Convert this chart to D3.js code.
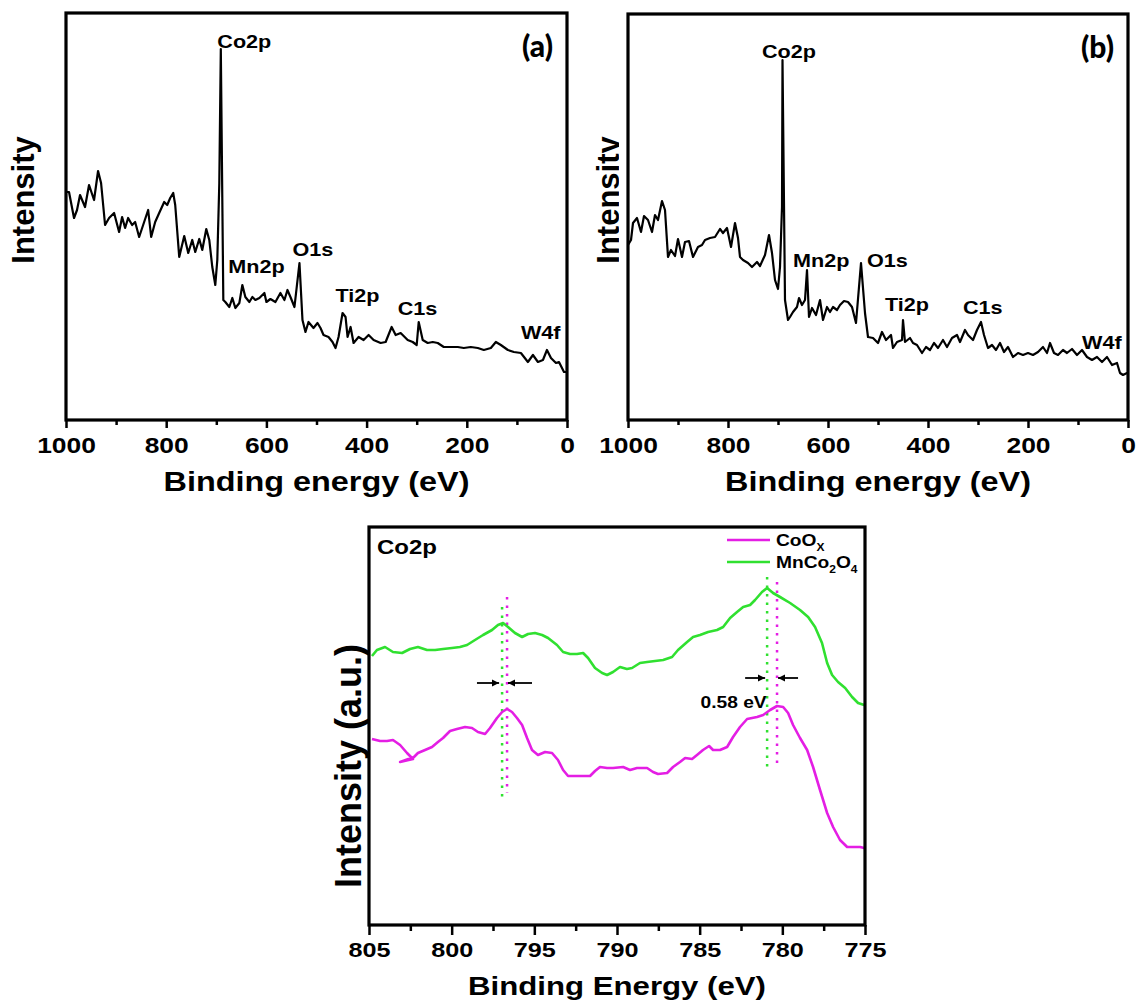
<!DOCTYPE html>
<html>
<head>
<meta charset="utf-8">
<title>XPS spectra</title>
<script src="https://d3js.org/d3.v7.min.js"></script>
<style>
  body { margin: 0; background: #fff; }
  svg text { font-family: Arial, "Liberation Sans", sans-serif; font-weight: bold; fill: #000; }
  .frame { fill: none; stroke: #000; stroke-width: 3.2; }
  .axis path { display: none; }
  .axis line { stroke: #000; stroke-width: 2.5; }
  .spectrum { fill: none; stroke: #000; stroke-width: 2.2; stroke-linejoin: round; }
  .tag { font-family: Lato, "Open Sans", sans-serif !important; font-weight: 900 !important; }
</style>
</head>
<body>
<script>
// ---- survey (a) ----
var energyA = [1000,994,984,978,972,962,954,944,936,930,922,914,904,894,888,882,876,868,862,854,844,836,830,822,814,804,798,792,786,782,774,764,756,748,742,734,728,720,714,708,702,698,694,691,686,682,674,668,662,654,648,642,634,628,622,614,604,600,592,582,572,564,558,552,544,534,528,522,516,506,498,492,486,476,468,462,456,448,442,438,432,426,416,406,396,386,372,362,350,342,332,318,308,300,296,288,278,268,258,246,232,218,206,192,178,166,152,142,132,118,106,92,78,68,58,48,40,32,22,16,6,0];
var countsA = [228,228,202,210,225,213,235,220,249,237,195,202,207,188,203,192,202,195,198,183,198,210,183,198,207,218,215,222,227,215,163,184,167,180,168,181,170,191,180,153,135,160,237,371,120,118,113,122,112,117,135,123,118,123,120,122,127,118,121,118,127,120,130,123,113,157,100,88,98,92,97,92,85,83,78,72,83,107,103,83,93,77,83,80,85,80,77,78,93,85,87,80,78,75,98,80,77,78,77,73,73,73,72,73,72,70,72,78,75,70,68,67,58,65,58,60,70,62,57,58,48,48];

// ---- survey (b) ----
var energyB = [1000,994,990,982,974,968,960,952,946,940,932,926,920,914,906,900,892,886,878,870,860,852,846,836,826,816,810,802,794,786,780,776,770,760,752,742,736,726,718,712,706,700,696,692,691,686,680,676,670,662,658,652,646,642,638,632,624,616,610,602,596,590,582,576,568,560,552,544,534,526,520,510,500,492,484,474,470,462,452,450,446,436,430,422,412,404,396,388,380,370,362,352,342,336,326,320,310,302,294,288,280,272,264,256,248,240,230,220,210,200,190,180,170,162,156,148,140,130,122,112,102,92,82,72,62,52,42,32,22,16,10,2,0];
var countsB = [175,180,197,202,188,204,200,188,205,200,219,210,163,170,164,181,163,178,179,163,173,175,180,182,183,191,187,192,173,197,182,163,160,157,153,158,154,165,185,167,140,131,153,213,360,120,100,103,108,113,122,115,120,150,103,112,105,120,100,113,108,113,110,115,119,118,113,97,157,107,83,82,77,88,80,85,72,78,80,100,78,82,77,75,67,73,70,77,72,80,73,82,85,78,90,85,80,90,98,85,72,75,70,77,68,73,63,67,65,67,65,68,73,67,77,67,65,70,67,71,65,70,63,60,63,58,63,55,57,47,45,47,47];

var surveyTicks = [1000, 800, 600, 400, 200, 0];
var surveyMinor = [900, 700, 500, 300, 100];
var peaksA = [
  {name: "Co2p", e: 698, i: 372},
  {name: "Mn2p", e: 676, i: 147},
  {name: "O1s",  e: 548, i: 164},
  {name: "Ti2p", e: 462, i: 118},
  {name: "C1s",  e: 338, i: 105},
  {name: "W4f",  e: 92,  i: 81}
];
var peaksB = [
  {name: "Co2p", e: 732, i: 362},
  {name: "Mn2p", e: 670, i: 153},
  {name: "O1s",  e: 522, i: 153},
  {name: "Ti2p", e: 486, i: 109},
  {name: "C1s",  e: 330, i: 106},
  {name: "W4f",  e: 92,  i: 71}
];

// ---- Co2p high resolution (c) ----
var energyMn = [804.82,804.52,804.03,803.55,803.0,802.52,802.04,801.49,801.0,800.52,799.98,799.5,799.07,798.59,798.1,797.56,797.2,796.89,796.59,796.17,795.74,795.38,794.96,794.53,794.17,793.63,793.26,792.84,792.42,792.05,791.75,791.33,790.9,790.6,790.24,789.82,789.4,789.09,788.61,788.18,787.7,787.21,786.67,786.31,785.76,785.4,784.98,784.49,783.95,783.58,783.16,782.74,782.37,781.95,781.65,781.23,780.92,780.56,780.14,779.53,778.93,778.44,778.02,777.6,777.29,776.99,776.63,776.2,775.78,775.42,775.05];
var countsMn = [269,275,278,273,272,276,278,275,275,276,277,278,280,285,290,295,300,302,298,292,288,291,292,290,287,280,273,271,271,272,267,257,252,250,253,258,256,257,262,263,264,265,268,275,283,288,290,293,295,298,307,313,318,320,325,333,337,332,328,322,315,308,298,282,262,250,243,237,228,222,220];
var energyCo = [804.82,804.33,803.91,803.55,803.12,802.7,802.34,803.12,802.28,802.04,801.61,801.19,800.83,800.52,800.1,799.68,799.19,798.77,798.41,797.98,797.68,797.26,796.95,796.65,796.35,796.05,795.74,795.44,795.14,794.78,794.35,793.93,793.57,793.26,792.96,792.42,792.05,791.63,791.33,791.03,790.6,790.24,789.63,789.21,788.79,788.18,787.82,787.52,786.97,786.61,786.19,785.88,785.46,785.16,784.8,784.43,784.19,783.77,783.34,782.98,782.56,782.13,781.53,781.16,780.74,780.32,779.95,779.65,779.35,778.93,778.5,778.14,777.72,777.29,776.93,776.51,776.08,775.72,775.3,775.05];
var countsCo = [186,184,184,185,180,172,166,163,168,172,175,178,183,187,194,196,198,197,193,191,197,207,213,216,213,207,200,187,175,170,173,172,165,155,149,149,149,149,154,158,157,157,158,155,157,157,153,151,152,158,163,167,166,170,175,179,175,175,178,188,198,206,208,210,215,219,218,212,200,187,175,158,135,112,98,85,78,78,78,77];

var hrTicks = [805, 800, 795, 790, 785, 780, 775];
var hrMinor = [802.5, 797.5, 792.5, 787.5, 782.5, 777.5];
// peak guides: energy, intensity range
var guides = [
  {series: "Mn", e: 796.95, i0: 318, i1: 123},
  {series: "Co", e: 796.65, i0: 328, i1: 132},
  {series: "Mn", e: 780.92, i0: 348, i1: 153},
  {series: "Co", e: 780.32, i0: 343, i1: 160}
];
// shift arrows: from energy -> to energy at intensity
var shiftArrows = [
  {from: 798.47, to: 797.13, i: 242},
  {from: 795.14, to: 796.59, i: 242},
  {from: 782.25, to: 781.04, i: 247},
  {from: 779.05, to: 780.26, i: 247}
];
var shiftLabel = {text: "0.58 eV", e: 780.95, i: 217};

var COLOR_CO = "#e41ee4";
var COLOR_MN = "#30e030";
var SX = 1.2; // the figure is slightly stretched horizontally

var svg = d3.select("body").append("svg")
    .attr("width", 1139)
    .attr("height", 1008);

var defs = svg.append("defs");
defs.append("marker")
    .attr("id", "head")
    .attr("viewBox", "0 0 10 10")
    .attr("refX", 10).attr("refY", 5)
    .attr("markerWidth", 4).attr("markerHeight", 4)
    .attr("orient", "auto")
  .append("path")
    .attr("d", "M0,0L10,5L0,10z")
    .attr("fill", "#000");
// the y label of (b) is cut off by the panel in the original
defs.append("clipPath").attr("id", "cutB")
  .append("rect").attr("x", 560).attr("y", 0).attr("width", 59).attr("height", 500);

function stretched(g, x, y, txt, size, anchor) {
  return g.append("text")
      .attr("transform", "translate(" + x + "," + y + ") scale(" + SX + ",1)")
      .attr("text-anchor", anchor || "start")
      .style("font-size", size + "px")
      .text(txt);
}

function drawSurvey(box, energy, counts, peaks, tag, ylabelX, clip) {
  var x = d3.scaleLinear().domain([1000, 0]).range([box.left, box.right]);
  var y = d3.scaleLinear().domain([0, box.bottom - box.top]).range([box.bottom, box.top]);
  var g = svg.append("g");

  var pts = energy.map(function(e, k) { return [e, counts[k]]; });
  g.append("path")
      .datum(pts)
      .attr("class", "spectrum")
      .attr("d", d3.line().x(function(d) { return x(d[0]); }).y(function(d) { return y(d[1]); }));

  g.append("g").attr("class", "axis")
      .attr("transform", "translate(0," + box.bottom + ")")
      .call(d3.axisBottom(x).tickValues(surveyMinor).tickSize(5).tickFormat(""));
  var ax = g.append("g").attr("class", "axis")
      .attr("transform", "translate(0," + box.bottom + ")")
      .call(d3.axisBottom(x).tickValues(surveyTicks).tickSize(8).tickPadding(9).tickFormat(d3.format("d")));
  ax.selectAll("text")
      .attr("transform", "scale(" + SX + ",1)")
      .style("font-size", "22px")
      .style("font-family", "Arial, 'Liberation Sans', sans-serif")
      .style("font-weight", "bold");

  g.append("rect").attr("class", "frame")
      .attr("x", box.left).attr("y", box.top)
      .attr("width", box.right - box.left).attr("height", box.bottom - box.top);

  peaks.forEach(function(p) {
    stretched(g, x(p.e), y(p.i), p.name, 18, "start");
  });

  g.append("text").attr("class", "tag")
      .attr("x", box.right - 14).attr("y", box.top + 44)
      .attr("text-anchor", "end")
      .style("font-size", "30px")
      .text(tag);

  stretched(g, (box.left + box.right) / 2, 491, "Binding energy (eV)", 27, "middle");

  var yl = g.append("text")
      .attr("transform", "translate(" + ylabelX + "," + 200 + ") rotate(-90)")
      .attr("text-anchor", "middle")
      .style("font-size", "31px")
      .text("Intensity");
  if (clip) yl.attr("clip-path", null), g.append("g").attr("clip-path", "url(#" + clip + ")").node().appendChild(yl.node());
}

drawSurvey({left: 66, right: 567, top: 13, bottom: 420}, energyA, countsA, peaksA, "(a)", 34);
drawSurvey({left: 628, right: 1128, top: 14, bottom: 420}, energyB, countsB, peaksB, "(b)", 619, "cutB");

// ---- panel (c) ----
(function() {
  var box = {left: 369, right: 865, top: 527, bottom: 925};
  var x = d3.scaleLinear().domain([805, 775]).range([box.left, box.right]);
  var y = d3.scaleLinear().domain([0, box.bottom - box.top]).range([box.bottom, box.top]);
  var g = svg.append("g");
  var line = d3.line().x(function(d) { return x(d[0]); }).y(function(d) { return y(d[1]); });
  var col = {Mn: COLOR_MN, Co: COLOR_CO};

  guides.forEach(function(d) {
    g.append("line")
        .attr("x1", x(d.e)).attr("x2", x(d.e))
        .attr("y1", y(d.i0)).attr("y2", y(d.i1))
        .attr("stroke", col[d.series])
        .attr("stroke-width", 2.5)
        .attr("stroke-dasharray", "2.5,6");
  });

  g.append("path").datum(energyMn.map(function(e, k) { return [e, countsMn[k]]; }))
      .attr("fill", "none").attr("stroke", COLOR_MN).attr("stroke-width", 2.6)
      .attr("stroke-linejoin", "round").attr("d", line);
  g.append("path").datum(energyCo.map(function(e, k) { return [e, countsCo[k]]; }))
      .attr("fill", "none").attr("stroke", COLOR_CO).attr("stroke-width", 2.6)
      .attr("stroke-linejoin", "round").attr("d", line);

  shiftArrows.forEach(function(d) {
    g.append("line")
        .attr("x1", x(d.from)).attr("x2", x(d.to))
        .attr("y1", y(d.i)).attr("y2", y(d.i))
        .attr("stroke", "#000").attr("stroke-width", 1.8)
        .attr("marker-end", "url(#head)");
  });
  stretched(g, x(shiftLabel.e), y(shiftLabel.i), shiftLabel.text, 16, "end");

  g.append("g").attr("class", "axis")
      .attr("transform", "translate(0," + box.bottom + ")")
      .call(d3.axisBottom(x).tickValues(hrMinor).tickSize(6).tickFormat(""));
  var ax = g.append("g").attr("class", "axis")
      .attr("transform", "translate(0," + box.bottom + ")")
      .call(d3.axisBottom(x).tickValues(hrTicks).tickSize(10).tickPadding(7).tickFormat(d3.format("d")));
  ax.selectAll("text")
      .attr("transform", "scale(" + SX + ",1)")
      .style("font-size", "21px")
      .style("font-family", "Arial, 'Liberation Sans', sans-serif")
      .style("font-weight", "bold");

  g.append("rect").attr("class", "frame")
      .attr("x", box.left).attr("y", box.top)
      .attr("width", box.right - box.left).attr("height", box.bottom - box.top);

  stretched(g, box.left + 8, box.top + 27, "Co2p", 20, "start");

  // legend
  var leg = [{label: ["CoO", "X"], c: COLOR_CO}, {label: ["MnCo", "2", "O", "4"], c: COLOR_MN}];
  leg.forEach(function(d, k) {
    var ly = box.top + 13 + k * 22;
    g.append("line")
        .attr("x1", box.left + 358).attr("x2", box.left + 401)
        .attr("y1", ly).attr("y2", ly)
        .attr("stroke", d.c).attr("stroke-width", 2.5);
    var t = stretched(g, box.left + 407, ly + 6, "", 16, "start");
    d.label.forEach(function(s, j) {
      var sub = j % 2 === 1;
      t.append("tspan")
          .attr("dy", sub ? 5 : (j === 0 ? 0 : -5))
          .style("font-size", sub ? "10px" : "16px")
          .text(s);
    });
  });

  stretched(g, (box.left + box.right) / 2, 995, "Binding Energy (eV)", 26, "middle");

  g.append("text")
      .attr("transform", "translate(" + 361 + "," + 766 + ") rotate(-90)")
      .attr("text-anchor", "middle")
      .style("font-size", "36px")
      .text("Intensity (a.u.)");
})();
</script>
</body>
</html>
